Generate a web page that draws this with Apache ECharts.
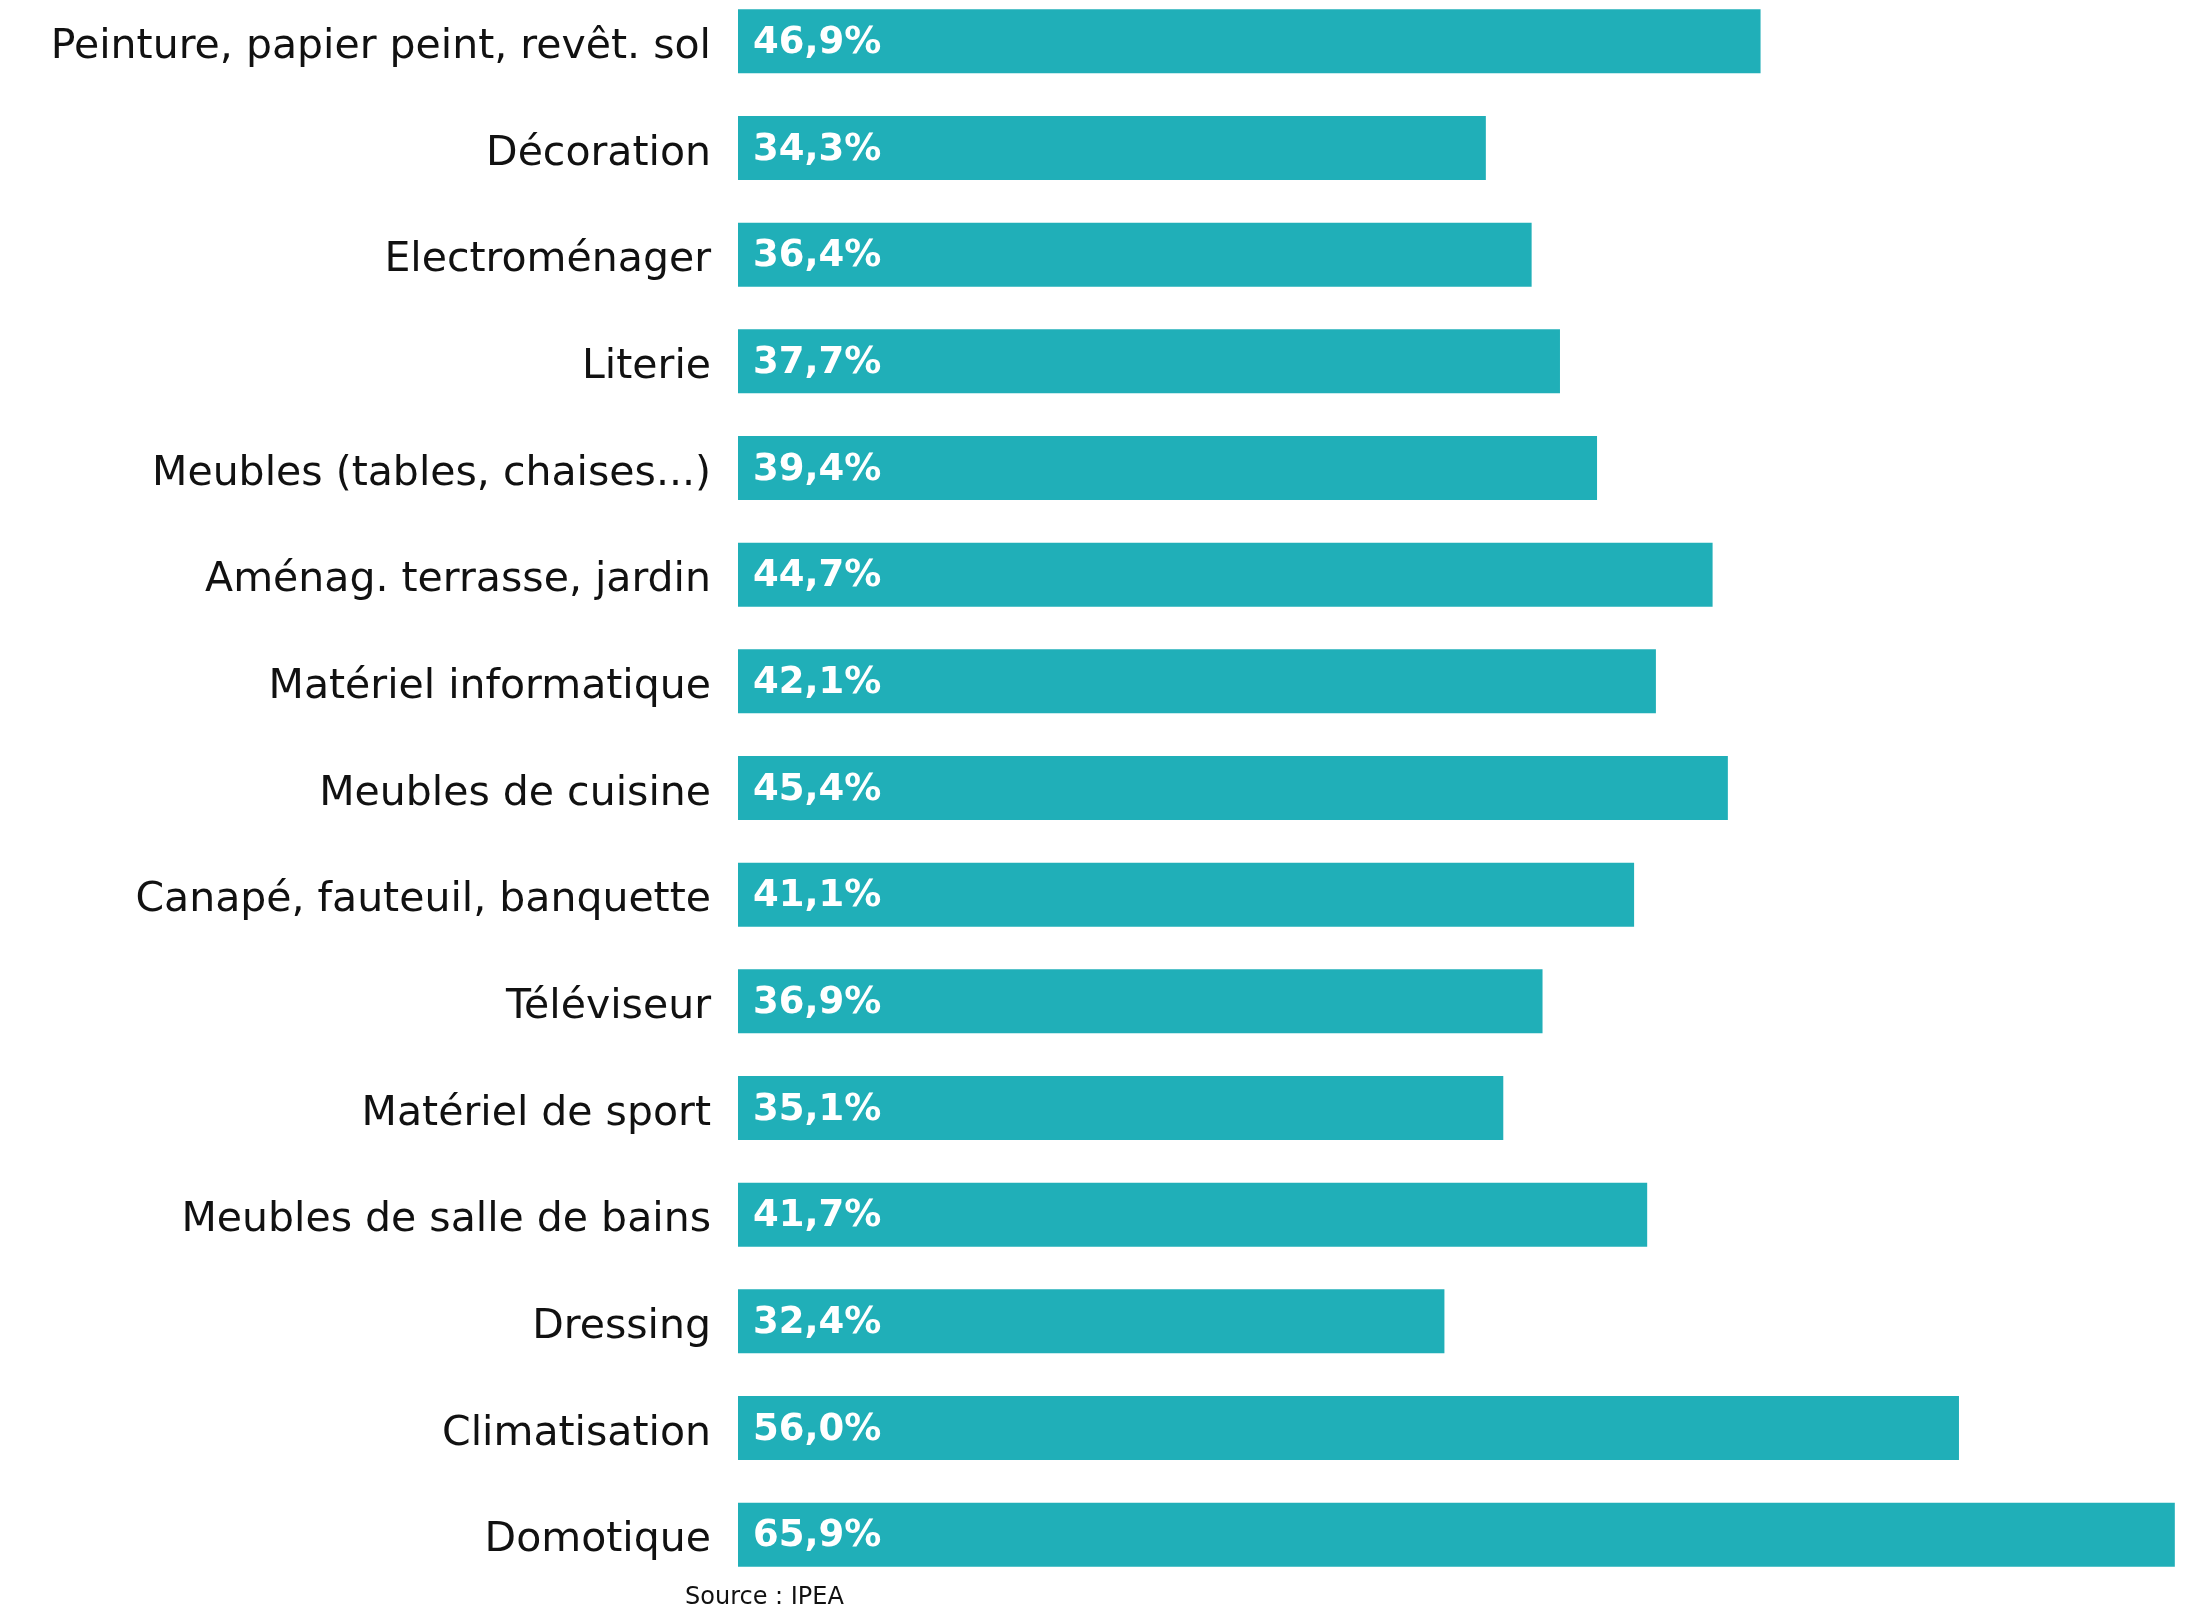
<!DOCTYPE html>
<html>
<head>
<meta charset="utf-8">
<script src="https://cdn.jsdelivr.net/npm/echarts@6/dist/echarts.min.js"></script>
<style>
  html, body { margin: 0; padding: 0; background: #fff; overflow: hidden; }
  /* shifted up a bit: grid top can't go negative */
  #chart { width: 2208px; height: 1634px; margin-top: -20px; }
</style>
</head>
<body>
<div id="chart"></div>
<script>
// categories, top to bottom
var categories = [
    'Peinture, papier peint, revêt. sol',
    'Décoration',
    'Electroménager',
    'Literie',
    'Meubles (tables, chaises...)',
    'Aménag. terrasse, jardin',
    'Matériel informatique',
    'Meubles de cuisine',
    'Canapé, fauteuil, banquette',
    'Téléviseur',
    'Matériel de sport',
    'Meubles de salle de bains',
    'Dressing',
    'Climatisation',
    'Domotique'
];
var values = [46.9, 34.3, 36.4, 37.7, 39.4, 44.7, 42.1, 45.4, 41.1, 36.9, 35.1, 41.7, 32.4, 56.0, 65.9];
var sourceText = 'Source : IPEA';

window.onload = function(){
    var chart = echarts.init(document.getElementById('chart'));
    chart.setOption(option);
}

var option = {
    animation: false,
    backgroundColor: '#fff',
    title: {
        text: sourceText,
        left: 680,
        top: 1601,
        textStyle: {
            fontFamily: 'DejaVu Sans',
            fontSize: 24,
            fontWeight: 'normal',
            color: '#111'
        }
    },
    grid: {
        left: 738,
        right: 31,
        top: 8,
        bottom: 26
    },
    xAxis: {
        type: 'value',
        min: 0,
        max: 66,
        show: false
    },
    yAxis: {
        type: 'category',
        inverse: true,
        data: categories,
        axisLine: { show: false },
        axisTick: { show: false },
        axisLabel: {
            margin: 27,
            fontFamily: 'DejaVu Sans',
            fontSize: 41,
            color: '#111',
            // rich padding pushes the text a little below the bar centre
            formatter: function (v) { return '{a|' + v + '}'; },
            rich: {
                a: {
                    fontFamily: 'DejaVu Sans',
                    fontSize: 41,
                    color: '#111',
                    padding: [12, 0, 0, 0]
                }
            }
        }
    },
    series: [
        {
            type: 'bar',
            data: values,
            barCategoryGap: '40%',
            itemStyle: { color: '#20afb8' },
            label: {
                show: true,
                position: 'insideLeft',
                distance: 15,
                offset: [0, 2],
                fontFamily: 'DejaVu Sans',
                fontWeight: 'bold',
                fontSize: 37,
                color: '#fff',
                formatter: function (p) {
                    return p.value.toFixed(1).replace('.', ',') + '%';
                }
            }
        }
    ]
};
</script>
</body>
</html>
